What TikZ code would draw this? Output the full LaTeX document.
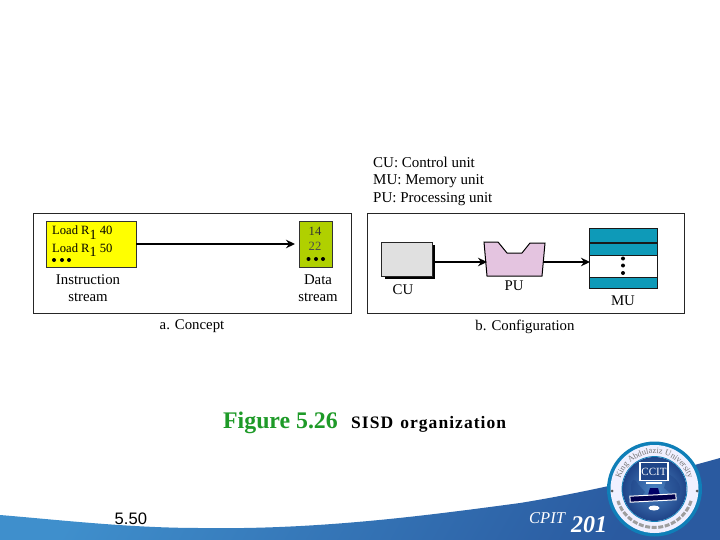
\documentclass[tikz,border=0pt]{standalone}
\usepackage{fontspec}
\setmainfont{Liberation Serif}
\newfontfamily\arialf{Liberation Sans}
\newfontfamily\spacedf[LetterSpace=6,WordSpace=1.3]{Liberation Serif}
\usetikzlibrary{arrows.meta,decorations.text,calc,shapes.geometric}
\definecolor{yel}{HTML}{FFFF00}
\definecolor{grn}{HTML}{B0D000}
\definecolor{pk}{HTML}{E4C4E0}
\definecolor{tl}{HTML}{0E9AB8}
\definecolor{fig}{HTML}{1E9A28}
\definecolor{wavea}{HTML}{3F8FCC}
\definecolor{waveb}{HTML}{2A5AA0}
\definecolor{ringc}{HTML}{0F7FB8}
\definecolor{logoa}{HTML}{4C86C4}
\definecolor{logob}{HTML}{1F4488}
\tikzset{
 panel/.style={draw=black!85,line width=1pt,fill=white},
 lbl/.style={font=\fontsize{14.8}{15.5}\selectfont,text=black,align=center,inner sep=0pt},
 small/.style={font=\fontsize{12.6}{14}\selectfont,text=black,inner sep=0pt},
 flow/.style={line width=1.3pt,draw=black,-{Stealth[length=9pt,width=8.5pt]}},
 memband/.style={fill=tl,draw=black!90,line width=1pt},
 dotmark/.style={circle,fill=black,inner sep=0pt,minimum size=4pt},
}
\begin{document}
\begin{tikzpicture}[x=1pt,y=-1pt]
\useasboundingbox (0,0) rectangle (720,540);
\fill[white] (0,0) rectangle (720,540);
% bottom wave
\shade[left color=wavea,right color=waveb,shading angle=60]
 (0,515) .. controls (60,520) and (130,528) .. (200,528)
 .. controls (320,530) and (430,515) .. (520,503)
 .. controls (600,490) and (670,472) .. (720,458)
 -- (720,540) -- (0,540) -- cycle;
% panels
\node[panel,minimum width=318pt,minimum height=100pt,inner sep=0pt] (pa) at (192,263.5) {};
\node[panel,minimum width=317pt,minimum height=99pt,inner sep=0pt] (pb) at (525.5,263.5) {};
% instruction stream
\node[draw=black!80,fill=yel,line width=.9pt,minimum width=90pt,minimum height=46pt,inner sep=0pt] (ins) at (91,244) {};
\node[small,anchor=west] (l1) at (52,232.5) {Load R\raisebox{-4.5pt}{\fontsize{14}{14}\selectfont 1} 40};
\node[small,anchor=west] (l2) at (52,250) {Load R\raisebox{-4.5pt}{\fontsize{14}{14}\selectfont 1} 50};
\node[dotmark] (d1) at (54,260) {};
\node[dotmark] (d2) at (62,260) {};
\node[dotmark] (d3) at (69,260) {};
\node[draw=black!80,fill=grn,line width=.9pt,minimum width=33pt,minimum height=46pt,inner sep=0pt] (dat) at (315.5,244) {};
\node[small,text=black!80] (n1) at (315,231) {14};
\node[small,text=black!70] (n2) at (315,246.5) {22};
\node[dotmark] (e1) at (308.5,259) {};
\node[dotmark] (e2) at (316,259) {};
\node[dotmark] (e3) at (323,259) {};
\coordinate (dattip) at (295,244);
\draw[flow] (ins.east) -- (dattip);
\node[lbl] (istr) at (88,288) {Instruction\\[1pt]stream};
\node[lbl] (dstr) at (318,288) {Data\\[1pt]stream};
\node[lbl] (capa) at (192,326.5) {a. Concept};
% legend
\node[lbl,anchor=north west,align=left,font=\fontsize{15}{17.5}\selectfont] (leg) at (373,156.5) {CU: Control unit\\MU: Memory unit\\PU: Processing unit};
% CU
\fill[black] (385,245) rectangle (435,279);
\node[draw=black!85,fill=black!12,line width=.9pt,minimum width=51pt,minimum height=34pt,inner sep=0pt] (cu) at (406.5,259) {};
\node[lbl] (cul) at (403,290) {CU};
% PU
\node[draw=none,minimum width=58pt,minimum height=34pt,inner sep=0pt] (pu) at (515,259) {};
\draw[fill=pk,draw=black,line width=1pt] (484,242) -- (498,242) -- (507,253) -- (522,253) -- (530,243) -- (545,243) -- (542,276) -- (487,276) -- cycle;
\node[lbl] (pul) at (514,286) {PU};
% MU
\node[draw=black!90,fill=white,line width=1pt,minimum width=68pt,minimum height=59pt,inner sep=0pt] (mu) at (623.5,258.5) {};
\path[memband] (589.5,229) rectangle (657.5,242.5);
\path[memband] (589.5,243) rectangle (657.5,255.5);
\path[memband] (589.5,277) rectangle (657.5,288);
\node[dotmark] (m1) at (623,258.5) {};
\node[dotmark] (m2) at (623,265.5) {};
\node[dotmark] (m3) at (623,273) {};
\node[lbl] (mul) at (623,301) {MU};
\node[lbl] (capb) at (525,326.5) {b. Configuration};
% arrows
\coordinate (cuout) at (435,262);
\coordinate (puin) at (487,262);
\coordinate (puout) at (543,262);
\coordinate (muin) at (590,262);
\draw[flow] (cuout) -- (puin);
\draw[flow] (puout) -- (muin);
% caption
\node[anchor=base west,inner sep=0pt,text=fig,font=\fontsize{23.8}{26}\selectfont\bfseries] (figl) at (223,428) {Figure 5.26};
\node[anchor=base west,inner sep=0pt,font=\spacedf\fontsize{17.5}{20}\selectfont\bfseries] (figt) at (351,428.5) {SISD organization};
\node[anchor=base west,inner sep=0pt,font=\arialf\fontsize{16.6}{20}\selectfont,text=black] (pg) at (114.5,524) {5.50};
\node[anchor=base west,inner sep=0pt,font=\fontsize{16.5}{18}\selectfont\itshape,text=white] (cp) at (529,523) {CPIT};
\node[anchor=base west,inner sep=0pt,font=\fontsize{24}{26}\selectfont\itshape\bfseries,text=white] (cn) at (571,532) {201};
% logo
\fill[ringc] (654.5,489) circle (47.5);
\fill[white!94!blue] (654.5,489) circle (44);
\shade[inner color=logoa,outer color=logob] (654.5,489) circle (32);
\draw[draw=ringc,line width=.8pt] (654.5,489) circle (32.5);
\fill[logob,opacity=.45] (638,484) .. controls (630,470) and (628,495) .. (636,503) -- (645,492) -- cycle;
\fill[logob,opacity=.45] (668,474) .. controls (682,480) and (684,495) .. (675,497) -- (664,488) -- cycle;
\node[draw=white,fill=logob,line width=1.2pt,minimum width=28pt,minimum height=18pt,inner sep=0pt,text=white,font=\fontsize{11}{11}\selectfont] (cc) at (654,471.5) {CCIT};
\fill[white] (646,481.5) rectangle (662,483.5);
\fill[black!60!blue] (650,488) -- (658,488) -- (660,495) -- (648,495) -- cycle;
\node[draw=white,fill=black!70!blue,line width=1pt,minimum width=46pt,minimum height=6pt,inner sep=0pt,rotate=3] (ban) at (653,498) {};
\fill[white] (654,508) ellipse (5.5 and 2.5);
\path[postaction={decorate},decoration={text along path,text align=center,text={|\fontsize{8.4}{8}\selectfont\color{black!55}|King{ }Abdulaziz{ }University}}]
 (654.5,489) ++(190:35.5) arc[start angle=190,end angle=350,radius=35.5];
\draw[black!38,line width=3pt,dash pattern=on 5pt off 1.6pt] (654.5,489) ++(18:38.5) arc[start angle=18,end angle=162,radius=38.5];
\fill[black!65] (612,491) circle (1.5);
\fill[black!65] (697,491) circle (1.5);
\end{tikzpicture}
\end{document}
